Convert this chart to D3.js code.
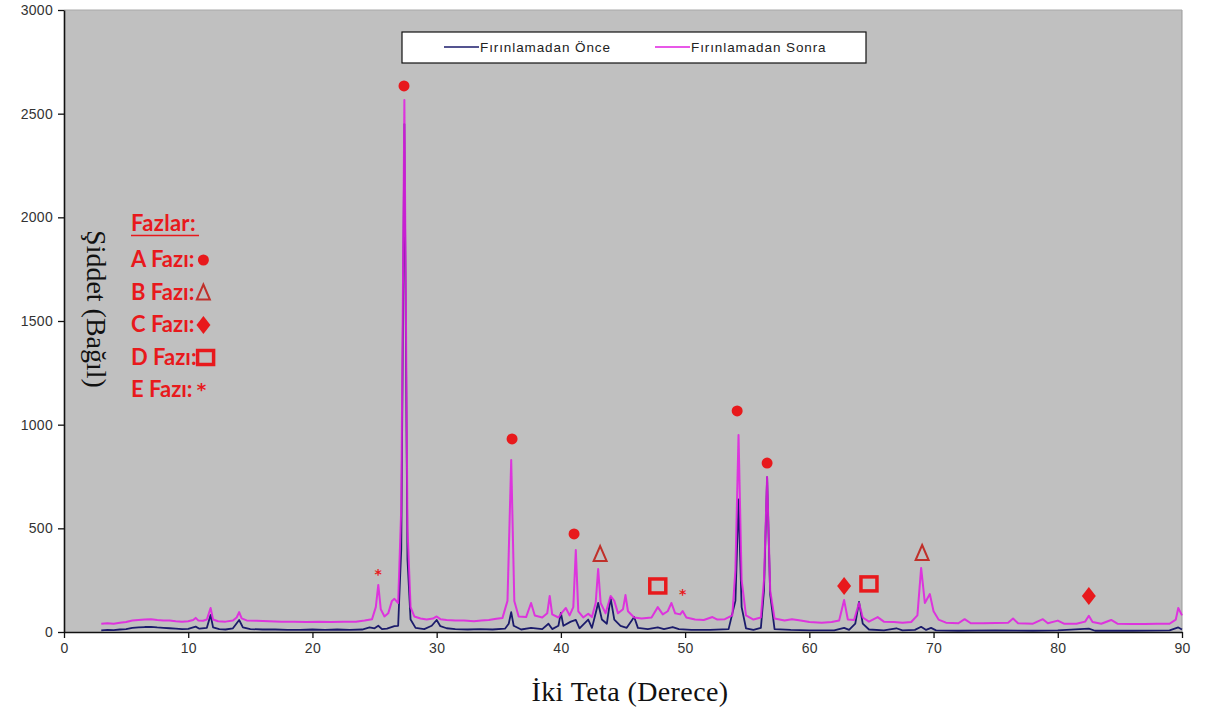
<!DOCTYPE html>
<html>
<head>
<meta charset="utf-8">
<script src="https://cdn.jsdelivr.net/npm/d3@7"></script>
<style>
  body { margin: 0; background: #fff; }
  svg { display: block; }
</style>
</head>
<body>
<div id="chart"></div>
<script>
// two-theta positions and intensities
const thetaSonra = [3.0,3.5,4.0,4.5,5.0,5.5,6.0,6.5,7.0,7.5,8.0,8.5,9.0,9.5,10.0,10.4,10.6,10.8,11.2,11.5,11.8,12.0,12.4,13.0,13.6,13.9,14.1,14.3,14.7,15.5,16.5,17.5,18.5,19.5,20.5,21.5,22.5,23.5,24.2,24.8,25.1,25.3,25.5,25.8,26.1,26.4,26.6,26.9,27.15,27.4,27.65,27.9,28.2,28.7,29.2,29.7,30.0,30.3,30.8,31.5,32.2,33.0,33.6,34.2,34.8,35.3,35.7,36.0,36.25,36.6,37.2,37.6,37.9,38.5,38.9,39.1,39.3,39.8,40.1,40.4,40.7,41.0,41.2,41.4,41.8,42.2,42.5,42.8,43.0,43.2,43.6,44.0,44.3,44.6,45.0,45.2,45.4,45.9,46.5,47.3,47.8,48.2,48.6,48.9,49.2,49.6,49.8,50.1,50.8,51.5,52.2,52.6,53.2,53.8,54.05,54.3,54.55,54.9,55.5,56.1,56.35,56.6,56.85,57.2,58.0,58.6,59.3,60.0,61.0,61.8,62.4,62.8,63.1,63.6,64.0,64.3,64.8,65.5,66.0,66.8,67.5,68.2,68.7,69.0,69.3,69.7,70.0,70.4,71.0,72.0,72.5,73.0,74.0,75.0,76.0,76.4,76.8,78.0,78.8,79.2,80.0,80.5,81.5,82.2,82.5,82.8,83.5,84.3,84.8,86.0,87.0,88.0,89.0,89.5,89.7,90.0]
const sonra = [40,42,40,45,48,55,58,60,62,58,56,55,52,50,52,58,68,56,54,60,116,60,52,50,55,70,96,66,56,54,52,50,50,48,50,48,50,50,55,62,120,227,110,75,90,150,160,140,600,2566,500,120,75,65,60,65,75,62,58,55,55,52,56,58,64,68,150,830,150,75,72,140,80,70,90,174,85,70,95,116,80,120,395,100,70,88,72,140,304,140,90,174,150,90,110,178,100,70,65,70,120,85,100,140,90,85,101,70,60,58,72,60,62,80,300,950,250,80,60,70,250,748,200,65,55,62,55,48,45,48,55,154,60,58,140,70,50,72,50,48,45,48,80,309,140,183,100,60,45,42,62,42,42,44,45,65,42,40,62,42,55,40,40,50,78,48,40,58,40,38,38,40,40,60,116,80]

const thetaOnce = [3.0,3.5,4.0,4.5,5.0,5.5,6.0,6.5,7.0,7.5,8.0,8.5,9.0,9.5,10.0,10.6,10.9,11.5,11.8,12.0,12.5,13.0,13.6,14.1,14.4,15.0,16.0,17.0,18.0,19.0,20.0,21.0,22.0,23.0,24.0,24.6,25.0,25.3,25.6,26.0,26.6,26.9,27.15,27.4,27.65,27.9,28.3,29.0,29.6,30.0,30.3,30.8,31.5,32.5,33.5,34.5,35.5,35.8,36.0,36.2,36.8,37.6,38.5,39.0,39.3,39.8,40.0,40.2,40.8,41.2,41.5,42.2,42.5,42.8,43.0,43.3,43.7,44.0,44.3,44.8,45.3,45.9,46.2,47.0,47.8,48.3,49.0,49.5,50.5,52.0,53.5,54.05,54.3,54.55,54.9,55.5,56.1,56.35,56.6,56.85,57.2,58.5,60.0,62.0,62.8,63.2,63.7,64.0,64.3,64.8,66.0,67.0,67.5,68.5,69.0,69.4,69.8,70.2,72.0,75.0,78.0,80.0,82.5,83.0,86.0,89.0,89.7,90.0]
const once = [8,10,9,12,14,20,22,24,25,22,20,18,16,14,15,26,16,20,82,22,14,12,18,58,22,14,12,12,10,10,12,10,12,10,12,22,18,30,14,16,28,30,400,2450,350,60,20,14,30,58,28,18,14,12,14,12,16,40,96,30,12,20,14,40,14,30,92,30,50,58,18,60,20,90,140,60,40,164,60,30,20,72,20,14,22,14,24,14,10,10,14,150,640,120,18,10,20,200,747,180,14,10,8,8,20,10,40,145,40,12,8,18,8,10,25,10,20,8,6,8,6,8,16,6,6,8,22,12]

// phase marks placed over the peaks
const markTheta = [27.37,36.07,41.06,54.19,56.6,43.16,69.08,62.8,82.5,47.8,64.8,25.3,49.8]
const markValue = [2634,931,473,1066,815,376,381,222,174,222,232,289,193]
const markPhase = ['A','A','A','A','A','B','B','C','C','D','D','E','E']

const xTicks = [0,10,20,30,40,50,60,70,80,90]
const yTicks = [0,500,1000,1500,2000,2500,3000]
const seriesNames = ['Fırınlamadan Önce','Fırınlamadan Sonra']
const phaseLabels = ['A Fazı:','B Fazı:','C Fazı:','D Fazı:','E Fazı:']

const width = 1211, height = 717
const margin = {left: 64, right: 29, top: 10, bottom: 85}
const red = '#e8191c'

const svg = d3.select('#chart').append('svg')
  .attr('width', width).attr('height', height)

const x = d3.scaleLinear().domain([0, 90]).range([margin.left, width - margin.right])
const y = d3.scaleLinear().domain([0, 3000]).range([height - margin.bottom, margin.top])

// plot area
svg.append('rect')
  .attr('x', x(0)).attr('y', y(3000))
  .attr('width', x(90) - x(0)).attr('height', y(0) - y(3000))
  .attr('fill', '#c0c0c0')
svg.append('line')
  .attr('x1', x(90)).attr('x2', x(90)).attr('y1', y(3000)).attr('y2', y(0))
  .attr('stroke', '#9a9a9a')
svg.append('line')
  .attr('x1', x(0)).attr('x2', x(90)).attr('y1', y(3000)).attr('y2', y(3000))
  .attr('stroke', '#a8a8a8')

const line = d3.line().x(d => x(d[0])).y(d => y(d[1]))

svg.append('path')
  .datum(d3.zip(thetaOnce, once))
  .attr('d', line)
  .attr('fill', 'none').attr('stroke', '#1b1b6b').attr('stroke-width', 1.8)
  .attr('stroke-linejoin', 'round')

svg.append('path')
  .datum(d3.zip(thetaSonra, sonra))
  .attr('d', line)
  .attr('fill', 'none').attr('stroke', '#e020e0').attr('stroke-width', 2)
  .attr('stroke-opacity', 0.88).attr('stroke-linejoin', 'round')

// axes
const fmt = d3.format('d')
const xAxis = svg.append('g')
  .attr('transform', `translate(0,${y(0)})`)
  .call(d3.axisBottom(x).tickValues(xTicks).tickFormat(fmt).tickSize(6).tickSizeOuter(0).tickPadding(5))
const yAxis = svg.append('g')
  .attr('transform', `translate(${x(0)},0)`)
  .call(d3.axisLeft(y).tickValues(yTicks).tickFormat(fmt).tickSize(6).tickSizeOuter(0).tickPadding(5))

;[xAxis, yAxis].forEach(g => {
  g.select('.domain').attr('stroke', '#111').attr('stroke-width', 1.6)
  g.selectAll('.tick line').attr('stroke', '#111').attr('stroke-width', 1.3)
  g.selectAll('.tick text')
    .attr('font-family', 'Liberation Sans, Arial, sans-serif')
    .attr('font-size', 14).attr('letter-spacing', 0.3).attr('fill', '#333')
})

// axis titles
svg.append('text')
  .attr('x', 630).attr('y', 701)
  .attr('text-anchor', 'middle')
  .attr('font-family', 'Liberation Serif, Times New Roman, serif')
  .attr('font-size', 28).attr('letter-spacing', 0.4).attr('fill', '#111')
  .text('İki Teta (Derece)')

svg.append('text')
  .attr('transform', 'translate(87,309) rotate(90)')
  .attr('text-anchor', 'middle')
  .attr('font-family', 'Liberation Serif, Times New Roman, serif')
  .attr('font-size', 28).attr('fill', '#111')
  .text('Şiddet (Bağıl)')

// series legend
const leg = svg.append('g')
leg.append('rect')
  .attr('x', 402).attr('y', 32).attr('width', 464).attr('height', 31)
  .attr('fill', '#fff').attr('stroke', '#111').attr('stroke-width', 1.2)
const legX = [444, 655]
const legColor = ['#1b1b6b', '#e020e0']
seriesNames.forEach((name, i) => {
  leg.append('line')
    .attr('x1', legX[i]).attr('x2', legX[i] + 35).attr('y1', 47).attr('y2', 47)
    .attr('stroke', legColor[i]).attr('stroke-width', 1.5)
  leg.append('text')
    .attr('x', legX[i] + 36).attr('y', 52)
    .attr('font-family', 'Liberation Sans, Arial, sans-serif')
    .attr('font-size', 13.5).attr('letter-spacing', 0.9).attr('fill', '#222')
    .text(name)
})

// phase marks
function drawMark(g, phase, cx, cy, s) {
  s = s || 1
  if (phase === 'A') {
    g.append('circle').attr('cx', cx).attr('cy', cy).attr('r', 5.5 * s).attr('fill', red)
  } else if (phase === 'B') {
    g.append('path')
      .attr('d', `M${cx},${cy - 8 * s} L${cx + 6.5 * s},${cy + 7 * s} L${cx - 6.5 * s},${cy + 7 * s} Z`)
      .attr('fill', 'none').attr('stroke', '#c0302a').attr('stroke-width', 2)
  } else if (phase === 'C') {
    g.append('path')
      .attr('d', `M${cx},${cy - 9 * s} L${cx + 7 * s},${cy} L${cx},${cy + 9 * s} L${cx - 7 * s},${cy} Z`)
      .attr('fill', red)
  } else if (phase === 'D') {
    g.append('rect')
      .attr('x', cx - 8 * s).attr('y', cy - 7 * s).attr('width', 16 * s).attr('height', 14 * s)
      .attr('fill', 'none').attr('stroke', red).attr('stroke-width', 3.5)
  } else {
    g.append('text').attr('x', cx).attr('y', cy + 7 * s)
      .attr('text-anchor', 'middle')
      .attr('font-family', 'DejaVu Sans, sans-serif').attr('font-weight', 'bold')
      .attr('font-size', 14 * s).attr('fill', red).text('*')
  }
}

const marks = svg.append('g')
markTheta.forEach((t, i) => drawMark(marks, markPhase[i], x(t), y(markValue[i])))

// phase key
const key = svg.append('g')
  .attr('font-family', 'Lato, Open Sans, sans-serif').attr('font-weight', 'bold')
  .attr('font-size', 22).attr('fill', red)
key.append('text').attr('x', 131).attr('y', 231).attr('letter-spacing', 0.3).text('Fazlar:')
key.append('line')
  .attr('x1', 131).attr('x2', 199).attr('y1', 235.5).attr('y2', 235.5)
  .attr('stroke', red).attr('stroke-width', 1.6)
phaseLabels.forEach((lab, i) => {
  const ty = 267 + i * 32.5
  const t = key.append('text').attr('x', 131).attr('y', ty).text(lab)
  const w = t.node().getComputedTextLength()
  const p = ['A','B','C','D','E'][i]
  const dy = p === 'E' ? -10 : -7
  drawMark(key, p, 131 + w + 9, ty + dy, p === 'E' ? 1.3 : 1)
})
</script>
</body>
</html>
